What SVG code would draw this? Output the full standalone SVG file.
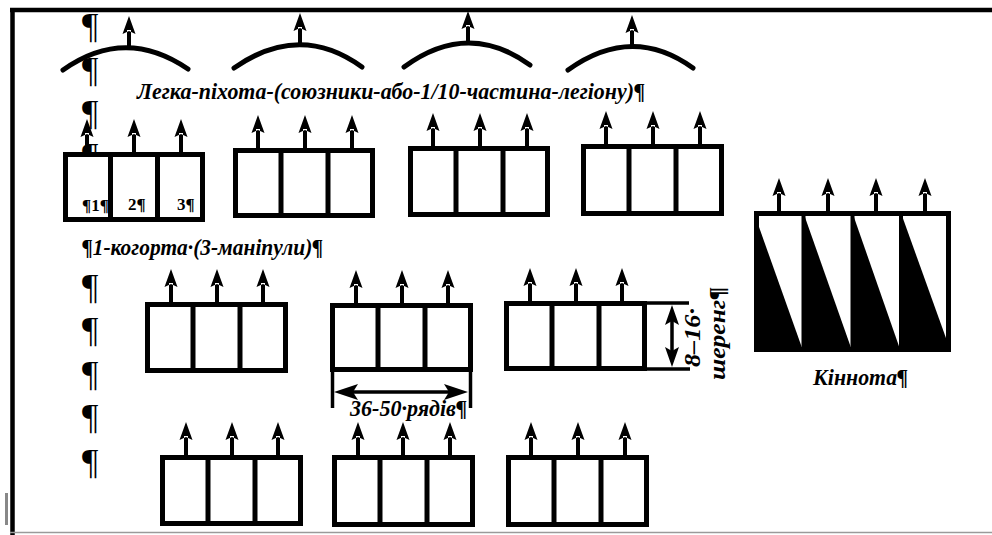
<svg xmlns="http://www.w3.org/2000/svg" xmlns:xlink="http://www.w3.org/1999/xlink" width="992" height="535" viewBox="0 0 992 535">
<style>
.bx{fill:#fff;stroke:#000;stroke-width:5}
.dv{stroke:#000;stroke-width:5}
.arc{fill:none;stroke:#000;stroke-width:5;stroke-linecap:round}
.ln{stroke:#000;stroke-width:3.5}
.t{font-family:"Liberation Serif","Times New Roman",serif;font-style:italic;font-weight:bold;font-size:24px;fill:#000}
.p{font-family:"Liberation Serif","Times New Roman",serif;font-size:36px;fill:#000}
.n{font-family:"Liberation Serif","Times New Roman",serif;font-weight:bold;font-size:17px;fill:#000}
</style>
<defs>
<path id="ua" d="M-2,0 V-19 H2 V0 Z M0,-33 L-6.5,-15 L0,-18 L6.5,-15 Z" fill="#000"/>
</defs>
<rect width="992" height="535" fill="#fff"/>
<g id="frame">
<line x1="10" y1="10" x2="992" y2="10" stroke="#000" stroke-width="4.5"/>
<line x1="12.5" y1="8" x2="12.5" y2="535" stroke="#000" stroke-width="4.5"/>
<line x1="10" y1="532.5" x2="992" y2="532.5" stroke="#9a9a9a" stroke-width="1.5"/>
<line x1="6.5" y1="493" x2="6.5" y2="525" stroke="#888" stroke-width="3"/>
</g>
<g id="pilcrows">
<text class="p" x="82" y="38">¶</text>
<text class="p" x="82" y="82">¶</text>
<text class="p" x="82" y="125">¶</text>
<text class="p" x="82" y="168">¶</text>
<text class="p" x="82" y="299">¶</text>
<text class="p" x="82" y="342">¶</text>
<text class="p" x="82" y="386">¶</text>
<text class="p" x="82" y="429">¶</text>
<text class="p" x="82" y="474">¶</text>
</g>
<g id="light-infantry">
<path class="arc" d="M63,70 Q125,26 188,69"/>
<path class="arc" d="M234,68 Q300,22 362,67"/>
<path class="arc" d="M404,67 Q468,20 530,65"/>
<path class="arc" d="M568,70 Q632,24 693,68"/>
<use xlink:href="#ua" x="129" y="49"/>
<use xlink:href="#ua" x="300" y="46"/>
<use xlink:href="#ua" x="468" y="44"/>
<use xlink:href="#ua" x="632" y="48"/>
<text class="t" x="137" y="99" textLength="508" lengthAdjust="spacingAndGlyphs">Легка-піхота-(союзники-або-1/10-частина-легіону)¶</text>
</g>
<g id="cohort-a">
<rect class="bx" x="65.5" y="154.5" width="137" height="65"/>
<line class="dv" x1="110.5" y1="154" x2="110.5" y2="220"/>
<line class="dv" x1="157.5" y1="154" x2="157.5" y2="220"/>
<use xlink:href="#ua" x="87" y="152"/>
<use xlink:href="#ua" x="134" y="152"/>
<use xlink:href="#ua" x="181" y="152"/>
<text class="n" x="82" y="211" font-size="21">¶1¶</text>
<text class="n" x="128" y="210">2¶</text>
<text class="n" x="177" y="210">3¶</text>
</g>
<g id="cohort-b">
<rect class="bx" x="235.5" y="150.5" width="137" height="65"/>
<line class="dv" x1="281" y1="150" x2="281" y2="216"/>
<line class="dv" x1="328" y1="150" x2="328" y2="216"/>
<use xlink:href="#ua" x="258" y="148"/>
<use xlink:href="#ua" x="305" y="148"/>
<use xlink:href="#ua" x="352" y="148"/>
</g>
<g id="cohort-c">
<rect class="bx" x="410.5" y="148.5" width="137" height="66"/>
<line class="dv" x1="456" y1="148" x2="456" y2="215"/>
<line class="dv" x1="503" y1="148" x2="503" y2="215"/>
<use xlink:href="#ua" x="433" y="146"/>
<use xlink:href="#ua" x="480" y="146"/>
<use xlink:href="#ua" x="527" y="146"/>
</g>
<g id="cohort-d">
<rect class="bx" x="583.5" y="146.5" width="138" height="67"/>
<line class="dv" x1="629" y1="146" x2="629" y2="214"/>
<line class="dv" x1="676" y1="146" x2="676" y2="214"/>
<use xlink:href="#ua" x="606" y="144"/>
<use xlink:href="#ua" x="653" y="144"/>
<use xlink:href="#ua" x="700" y="144"/>
</g>
<text class="t" x="82" y="255" textLength="241" lengthAdjust="spacingAndGlyphs">¶1-когорта·(3-маніпули)¶</text>
<g id="cohort-e">
<rect class="bx" x="147.5" y="304.5" width="138" height="66"/>
<line class="dv" x1="193" y1="304" x2="193" y2="371"/>
<line class="dv" x1="240" y1="304" x2="240" y2="371"/>
<use xlink:href="#ua" x="171" y="302"/>
<use xlink:href="#ua" x="217" y="302"/>
<use xlink:href="#ua" x="263" y="302"/>
</g>
<g id="cohort-f">
<rect class="bx" x="332.5" y="305.5" width="138" height="64"/>
<line class="dv" x1="378" y1="305" x2="378" y2="370"/>
<line class="dv" x1="425" y1="305" x2="425" y2="370"/>
<use xlink:href="#ua" x="356" y="303"/>
<use xlink:href="#ua" x="402" y="303"/>
<use xlink:href="#ua" x="448" y="303"/>
</g>
<g id="cohort-g">
<rect class="bx" x="506.5" y="303.5" width="138" height="65"/>
<line class="dv" x1="552" y1="303" x2="552" y2="369"/>
<line class="dv" x1="599" y1="303" x2="599" y2="369"/>
<use xlink:href="#ua" x="530" y="301"/>
<use xlink:href="#ua" x="576" y="301"/>
<use xlink:href="#ua" x="622" y="301"/>
</g>
<g id="cohort-h">
<rect class="bx" x="162.5" y="457.5" width="138" height="66"/>
<line class="dv" x1="208" y1="457" x2="208" y2="524"/>
<line class="dv" x1="255" y1="457" x2="255" y2="524"/>
<use xlink:href="#ua" x="186" y="455"/>
<use xlink:href="#ua" x="232" y="455"/>
<use xlink:href="#ua" x="278" y="455"/>
</g>
<g id="cohort-i">
<rect class="bx" x="334.5" y="457.5" width="138" height="67"/>
<line class="dv" x1="380" y1="457" x2="380" y2="525"/>
<line class="dv" x1="427" y1="457" x2="427" y2="525"/>
<use xlink:href="#ua" x="358" y="455"/>
<use xlink:href="#ua" x="403" y="455"/>
<use xlink:href="#ua" x="450" y="455"/>
</g>
<g id="cohort-j">
<rect class="bx" x="508.5" y="457.5" width="138" height="67"/>
<line class="dv" x1="554" y1="457" x2="554" y2="525"/>
<line class="dv" x1="601" y1="457" x2="601" y2="525"/>
<use xlink:href="#ua" x="531" y="455"/>
<use xlink:href="#ua" x="578" y="455"/>
<use xlink:href="#ua" x="625" y="455"/>
</g>
<g id="cavalry">
<rect class="bx" x="756.5" y="213.5" width="192" height="136"/>
<polygon points="754,213 803.5,352 754,352" fill="#000"/>
<polygon points="803.5,213 852.5,352 803.5,352" fill="#000"/>
<polygon points="852.5,213 901,352 852.5,352" fill="#000"/>
<polygon points="901,213 951,352 901,352" fill="#000"/>
<line x1="803.5" y1="212" x2="803.5" y2="352" stroke="#000" stroke-width="4"/>
<line x1="852.5" y1="212" x2="852.5" y2="352" stroke="#000" stroke-width="4"/>
<line x1="901" y1="212" x2="901" y2="352" stroke="#000" stroke-width="4"/>
<line x1="754" y1="213.5" x2="951" y2="213.5" stroke="#000" stroke-width="5"/>
<use xlink:href="#ua" x="779" y="211"/>
<use xlink:href="#ua" x="828" y="211"/>
<use xlink:href="#ua" x="876" y="211"/>
<use xlink:href="#ua" x="925" y="211"/>
<text class="t" x="813" y="385" textLength="95" lengthAdjust="spacingAndGlyphs">Кіннота¶</text>
</g>
<g id="dimensions">
<line class="ln" x1="332.5" y1="370" x2="332.5" y2="408"/>
<line class="ln" x1="470.5" y1="370" x2="470.5" y2="408"/>
<line class="ln" x1="350" y1="392" x2="452" y2="392"/>
<polygon points="334,392 358,384 353,392 358,400" fill="#000"/>
<polygon points="468,392 444,384 449,392 444,400" fill="#000"/>
<text class="t" x="350" y="416" textLength="117" lengthAdjust="spacingAndGlyphs">36-50·рядів¶</text>
<line class="ln" x1="645" y1="303" x2="689" y2="303"/>
<line class="ln" x1="645" y1="369" x2="690" y2="369"/>
<line class="ln" x1="672" y1="318" x2="672" y2="354"/>
<polygon points="672,305 665,325 672,321 679,325" fill="#000"/>
<polygon points="672,367 665,347 672,351 679,347" fill="#000"/>
<text class="t" transform="translate(700,367) rotate(-90)" textLength="59" lengthAdjust="spacingAndGlyphs">8–16·</text>
<text class="t" transform="translate(725,380) rotate(-90)" textLength="93" lengthAdjust="spacingAndGlyphs">шеренг¶</text>
</g>
</svg>
